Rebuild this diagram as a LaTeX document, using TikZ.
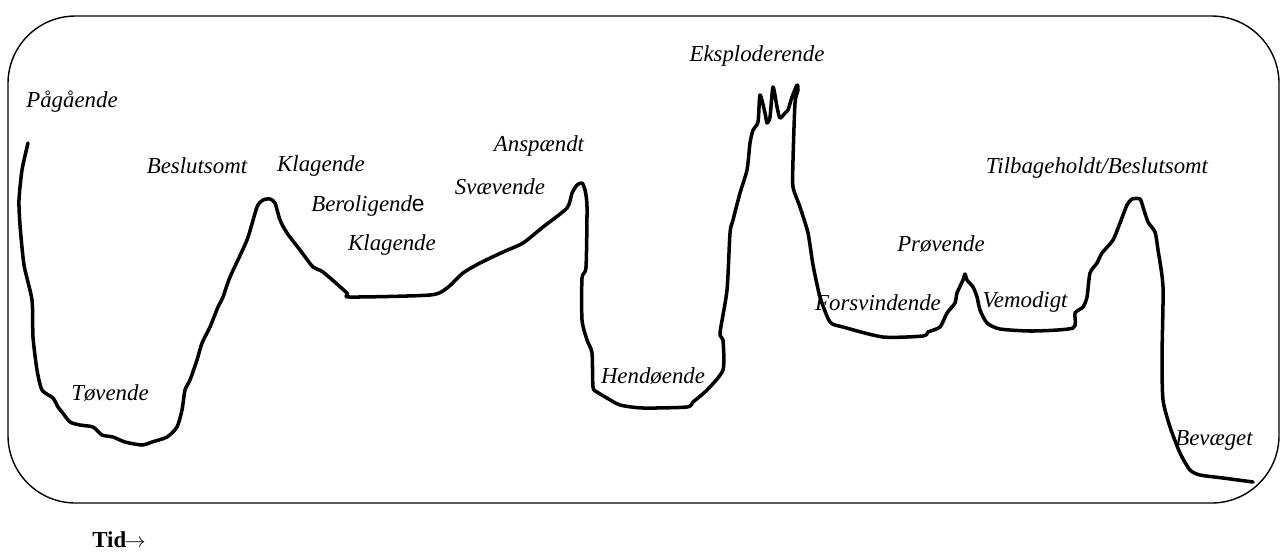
\documentclass[tikz,border=0pt]{standalone}
\usepackage{fontspec}
\setmainfont{Liberation Serif}
\newfontfamily\efont{Liberation Sans}
\begin{document}
\begin{tikzpicture}[x=0.02cm,y=-0.02cm,
  lbl/.style={font=\fontsize{13}{15}\selectfont\itshape, inner sep=0pt},
  frame/.style={line width=0.8pt, rounded corners=1.35cm},
  mood/.style={line width=2pt, line join=round, line cap=round}]
\useasboundingbox (0,0) rectangle (1280,552);
\draw[frame] (8,16) rectangle (1279,503);
\draw[mood] plot[smooth, tension=0.4] coordinates {
 (28,143) (22,170) (19,200) (20,225) (24,265) (32,300) (33,337) (37,370) (42,390)
 (53,398) (58,407) (62,412) (70,422) (80,425) (93,427) (102,435) (113,437)
 (125,442) (142,445) (152,442) (167,437) (177,427) (182,410) (185,390) (190,380)
 (197,360) (202,343) (210,327) (218,307) (223,297) (230,277) (247,240) (257,207)
 (263,200) (270,199) (275,203) (280,220) (287,233) (300,250) (313,267) (323,272)
 (347,293) (350,297) (430,295) (447,288) (463,273) (480,263) (503,252) (523,243)
 (543,227) (567,208) (572,193) (577,185) (582,183) (585,190) (587,207) (586,267)
 (582,278) (582,320) (587,340) (592,353) (593,387) (597,392) (607,398) (620,405)
 (643,408) (687,407) (693,402) (707,390) (723,370) (723,340) (720,333) (727,290)
 (730,233) (733,220) (740,193) (747,170) (750,143) (753,130) (758,122) (760,95)
 (765,113) (767,123) (770,117) (773,87) (777,107) (780,118) (785,113) (788,110)
 (792,97) (797,85) (798,90) (795,103) (793,160) (793,187) (800,207) (808,233)
 (813,265) (820,297) (830,322) (843,327) (883,337) (923,336) (928,332) (940,327)
 (947,313) (955,303) (957,293) (963,280) (965,274) (967,280) (973,287) (977,297)
 (980,310) (987,323) (1000,329) (1033,331) (1073,328) (1075,313) (1083,307)
 (1087,297) (1090,273) (1097,263) (1102,253) (1113,240) (1120,223) (1127,205)
 (1132,199) (1140,199) (1143,207) (1148,222) (1155,232) (1158,250) (1163,287)
 (1162,357) (1163,400) (1170,427) (1180,453) (1190,470) (1200,475) (1223,478)
 (1253,482)};
\node[lbl] (pag) at (72,102) {Pågående};
\node[lbl] (tov) at (110,393) {Tøvende};
\node[lbl] (bes) at (197,166) {Beslutsomt};
\node[lbl] (kla1) at (321,166) {Klagende};
\node[lbl] (ber) at (368,206) {Beroligend{\efont\upshape e}};
\node[lbl] (kla2) at (392,245) {Klagende};
\node[lbl] (sva) at (500,187) {Svævende};
\node[lbl] (ans) at (539,146) {Anspændt};
\node[lbl] (eks) at (757,56) {Eksploderende};
\node[lbl] (hen) at (653,376) {Hendøende};
\node[lbl] (for) at (878,303) {Forsvindende};
\node[lbl] (pro) at (941,244) {Prøvende};
\node[lbl] (vem) at (1025,302) {Vemodigt};
\node[lbl] (til) at (1097,168) {Tilbageholdt/Beslutsomt};
\node[lbl] (bev) at (1214,440) {Bevæget};
\node[font=\bfseries\fontsize{13}{15}\selectfont, inner sep=0pt] (tid) at (119,540) {Tid\kern-1pt$\rightarrow$};
\end{tikzpicture}
\end{document}
